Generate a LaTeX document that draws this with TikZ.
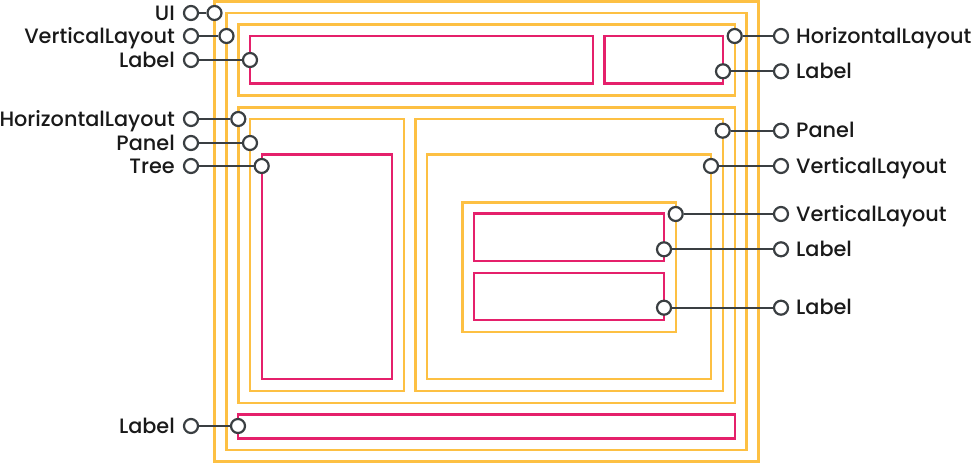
\documentclass[tikz,border=0pt]{standalone}
\usepackage{fontspec}
\setmainfont{Poppins}[UprightFont=* Medium]
\definecolor{ylw}{HTML}{FDC043}
\definecolor{pnk}{HTML}{E5206B}
\definecolor{ink}{HTML}{3A3F42}
\begin{document}
\begin{tikzpicture}[x=1pt,y=-1pt,
  ybox/.style={draw=ylw,line width=2.4pt},
  pbox/.style={draw=pnk,line width=2.4pt},
  pin/.style={circle,draw=ink,fill=white,line width=2.2pt,minimum size=14pt,inner sep=0pt},
  wire/.style={draw=ink,line width=2pt},
  lbl/.style={font=\fontsize{20.8}{25}\selectfont\color{black!90},text height=14pt,text depth=0pt,inner sep=0pt}]
\useasboundingbox (0,0) rectangle (971,463);
% yellow containers
\draw[ybox] (214.5,1.5) rectangle (758.3,461.5);
\draw[ybox] (226.5,12.7) rectangle (746.3,450);
\draw[ybox] (238.3,24.3) rectangle (734.7,95.3);
\draw[ybox] (238.3,107.3) rectangle (734.7,402.7);
\draw[ybox] (250,119) rectangle (403.7,391);
\draw[ybox] (415.3,119) rectangle (722.7,391);
\draw[ybox] (427,154.3) rectangle (711,379);
\draw[ybox] (462.3,202.3) rectangle (675.7,331.7);
% pink widgets
\draw[pbox] (250,36) rectangle (592.7,83.3);
\draw[pbox] (604.3,36) rectangle (723,83.3);
\draw[pbox] (261.7,154.3) rectangle (391.7,379);
\draw[pbox] (474,213.3) rectangle (664,260.7);
\draw[pbox] (474,272.7) rectangle (664,320);
\draw[pbox] (238,414.3) rectangle (735,438.3);
% left callouts
\node[pin] (lo1) at (191,13) {}; \node[pin] (li1) at (214.5,13) {};
\node[pin] (lo2) at (191,36) {}; \node[pin] (li2) at (226.5,36) {};
\node[pin] (lo3) at (191,60) {}; \node[pin] (li3) at (250,60) {};
\node[pin] (lo4) at (191,119) {}; \node[pin] (li4) at (238.3,119) {};
\node[pin] (lo5) at (191,143) {}; \node[pin] (li5) at (250,143) {};
\node[pin] (lo6) at (191,166) {}; \node[pin] (li6) at (261.7,166) {};
\node[pin] (lo7) at (191,426) {}; \node[pin] (li7) at (238,426) {};
\foreach \i in {1,...,7} {\draw[wire] (lo\i) -- (li\i);}
\node[lbl,anchor=east] (lt1) at (175,13) {UI};
\node[lbl,anchor=east] (lt2) at (175,36) {VerticalLayout};
\node[lbl,anchor=east] (lt3) at (175,60) {Label};
\node[lbl,anchor=east] (lt4) at (175,119) {HorizontalLayout};
\node[lbl,anchor=east] (lt5) at (175,143) {Panel};
\node[lbl,anchor=east] (lt6) at (175,166) {Tree};
\node[lbl,anchor=east] (lt7) at (175,426) {Label};
% right callouts
\node[pin] (ro1) at (781,36) {}; \node[pin] (ri1) at (734.7,36) {};
\node[pin] (ro2) at (781,71.3) {}; \node[pin] (ri2) at (723,71.3) {};
\node[pin] (ro3) at (781,130.7) {}; \node[pin] (ri3) at (722.7,130.7) {};
\node[pin] (ro4) at (781,166) {}; \node[pin] (ri4) at (711,166) {};
\node[pin] (ro5) at (781,214) {}; \node[pin] (ri5) at (675.7,214) {};
\node[pin] (ro6) at (781,249.3) {}; \node[pin] (ri6) at (664,249.3) {};
\node[pin] (ro7) at (781,307.7) {}; \node[pin] (ri7) at (664,307.7) {};
\foreach \i in {1,...,7} {\draw[wire] (ri\i) -- (ro\i);}
\node[lbl,anchor=west] (rt1) at (796,36) {HorizontalLayout};
\node[lbl,anchor=west] (rt2) at (796,71.3) {Label};
\node[lbl,anchor=west] (rt3) at (796,130.7) {Panel};
\node[lbl,anchor=west] (rt4) at (796,166) {VerticalLayout};
\node[lbl,anchor=west] (rt5) at (796,214) {VerticalLayout};
\node[lbl,anchor=west] (rt6) at (796,249.3) {Label};
\node[lbl,anchor=west] (rt7) at (796,307.7) {Label};
\end{tikzpicture}
\end{document}
